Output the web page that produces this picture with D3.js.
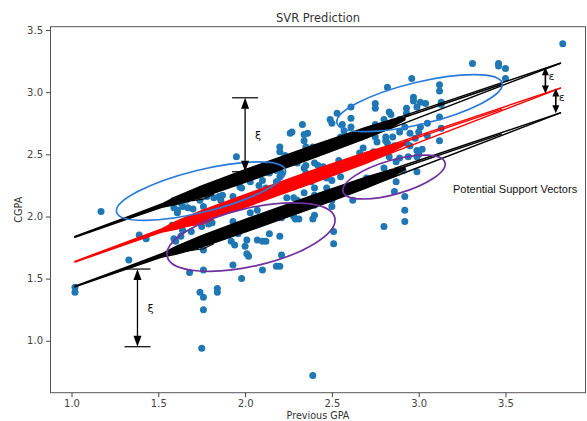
<!DOCTYPE html>
<html><head><meta charset="utf-8">
<script src="https://cdn.jsdelivr.net/npm/d3@7"></script>
<style>body{margin:0;background:#fff}svg{display:block}</style>
</head><body>
<svg id="chart" width="587" height="421"></svg>
<script>
// ---- data ----
const prevGPA = [3.83,3.31,3.46,3.46,3.50,3.50,2.96,2.82,3.12,3.12,3.13,3.13,3.12,3.13,3.12,
2.61,2.75,2.75,2.97,2.97,3.01,3.04,2.99,2.83,2.84,2.93,2.93,2.53,2.49,2.61,2.50,2.56,2.61,2.57,
2.80,2.75,2.85,2.89,2.92,3.01,3.05,2.33,2.36,2.34,2.34,2.27,2.35,2.39,2.55,2.61,2.67,2.68,2.76,
2.81,2.85,2.89,2.95,2.98,3.00,3.05,2.95,3.02,2.54,2.66,2.74,2.99,2.87,2.35,2.42,2.40,2.81,2.82,
2.75,2.86,2.93,2.99,2.82,2.94,3.00,2.80,2.86,2.91,2.99,2.83,2.89,2.62,2.45,2.30,2.28,2.35,2.38,
2.47,2.55,2.63,2.86,2.92,2.44,2.30,2.34,2.28,2.34,2.40,2.40,2.47,2.50,2.55,2.62,2.70,2.87,2.92,
2.92,2.80,2.51,2.51,2.40,2.39,2.31,2.29,2.50,2.27,2.39,1.17,1.02,1.02,1.33,1.39,1.43,1.58,1.59,
1.60,1.63,1.64,1.68,1.76,1.74,1.76,1.76,1.84,1.84,1.75,1.93,1.98,2.01,2.01,2.00,2.10,2.18,2.20,
2.21,2.20,2.12,2.07,2.10,2.14,2.02,1.92,1.94,1.96,1.93,1.75,1.79,1.69,1.74,1.76,2.03,2.07,2.18,
2.21,2.28,2.11,1.64,1.70,1.59,1.61,1.67,1.82,1.86,1.87,1.89,1.79,1.81,2.24,2.28,2.30,1.59,1.63,
1.66,1.76,1.85,1.93,1.97,2.08,2.10,2.14,2.18,2.20,2.12,1.95,2.20,2.20,2.23,2.26,2.21,2.18,2.03,
1.98,1.78,1.74,1.61,2.40,2.50];
const cgpa = [3.39,3.23,3.23,3.21,3.19,3.11,3.11,3.04,3.06,3.01,2.92,2.90,2.80,2.71,2.61,
2.88,2.91,2.87,2.96,2.93,2.92,2.91,2.88,2.84,2.82,2.87,2.83,2.83,2.78,2.79,2.75,2.74,2.72,2.69,
2.78,2.74,2.76,2.78,2.72,2.72,2.75,2.74,2.67,2.66,2.61,2.68,2.56,2.56,2.64,2.64,2.64,2.55,2.60,
2.61,2.64,2.68,2.67,2.63,2.68,2.65,2.57,2.54,2.45,2.51,2.52,2.48,2.44,2.41,2.41,2.43,2.64,2.59,
2.64,2.57,2.59,2.53,2.52,2.48,2.50,2.39,2.35,2.37,2.36,2.48,2.47,2.43,2.40,2.43,2.29,2.35,2.28,
2.31,2.32,2.24,2.20,2.16,2.13,2.13,2.39,2.24,2.19,2.17,2.23,2.23,2.29,2.43,2.13,2.31,2.28,2.05,
1.96,1.92,1.88,1.78,2.01,1.98,1.98,1.98,2.08,2.05,0.72,2.04,1.43,1.39,1.65,1.85,1.82,1.93,1.82,
1.80,1.84,1.89,1.55,1.57,1.39,1.35,1.25,1.42,1.39,0.94,1.61,1.50,1.81,1.70,1.76,1.57,1.60,1.60,
1.69,1.84,1.80,1.81,1.80,1.86,1.68,1.80,1.77,1.86,1.96,1.92,1.94,1.88,1.80,1.73,2.03,2.05,2.04,
1.99,2.00,2.00,2.08,2.06,2.07,2.03,2.07,2.15,2.13,2.17,2.08,2.03,1.95,2.15,2.15,2.08,2.13,2.11,
2.13,2.08,2.16,2.16,2.24,2.25,2.29,2.35,2.37,2.32,2.23,2.48,2.56,2.52,2.49,2.67,2.35,2.28,2.28,
2.23,2.16,2.13,2.05,2.09,2.13];

// SVR prediction (thick band where many predictions overlap) and epsilon tube
const EPS = 0.2;
const bandX  = [1.02, 1.30, 1.52, 1.60, 1.75, 2.00, 2.40, 2.70, 2.85, 2.92];
const bandHi = [1.638,1.784,1.899,1.957,2.045,2.175,2.375,2.517,2.579,2.594];
const bandLo = [1.634,1.770,1.875,1.897,1.955,2.075,2.275,2.431,2.524,2.578];
const wedgeX = [1.58, 1.76, 1.82];
const wedgeY = [1.905, 1.940, 1.980];
const fanX = [[2.86, 3.82], [2.72, 3.82], [2.78, 3.48]];
const fanY = [[2.586, 3.035], [2.445, 3.035], [2.534, 2.864]];

const xTicks = [1.0, 1.5, 2.0, 2.5, 3.0, 3.5];
const yTicks = [1.0, 1.5, 2.0, 2.5, 3.0, 3.5];

// annotations
const xiX = [2.00, 1.38], xiTop = [2.955, 1.577], xiBot = [2.36, 0.952];
const epsX = [3.73, 3.79], epsTop = [3.20, 3.03], epsBot = [2.99, 2.83];
const ellCX = [1.746, 3.005, 2.034, 2.858];
const ellCY = [2.204, 2.912, 1.834, 2.317];
const ellRX = [87, 85, 86, 53], ellRY = [21, 21, 29, 17], ellRot = [-14, -13.6, -13, -16];
const ellColor = ["#2a7bd9", "#2a7bd9", "#7030a0", "#7030a0"];

// ---- drawing ----
const svg = d3.select("#chart");
const L = 50.5, R = 585.5, T = 26.7, B = 392.7;
const x = d3.scaleLinear().domain([0.879, 3.961]).range([L, R]);
const y = d3.scaleLinear().domain([0.582, 3.527]).range([B, T]);
const FONT = "DejaVu Sans, sans-serif";

// axes
const gx = svg.append("g").attr("transform", `translate(0,${B})`)
  .call(d3.axisBottom(x).tickValues(xTicks).tickFormat(d3.format(".1f")).tickSize(4.5).tickPadding(3));
const gy = svg.append("g").attr("transform", `translate(${L},0)`)
  .call(d3.axisLeft(y).tickValues(yTicks).tickFormat(d3.format(".1f")).tickSize(4.5).tickPadding(3));
[gx, gy].forEach(g => {
  g.select(".domain").remove();
  g.selectAll("line").attr("stroke", "#444");
  g.selectAll("text").attr("fill", "#444").style("font-family", FONT).style("font-size", "10px");
});

// points
svg.append("g").selectAll("circle").data(prevGPA.map((v, i) => [v, cgpa[i]])).join("circle")
  .attr("cx", d => x(d[0])).attr("cy", d => y(d[1])).attr("r", 3.5).attr("fill", "#1f77b4");

// prediction band + tube
const band = bandX.map((v, i) => ({x: v, hi: bandHi[i], lo: bandLo[i]}));
const line = d3.line();
[[EPS, "#000"], [-EPS, "#000"], [0, "#ff0000"]].forEach(([off, col]) => {
  const g = svg.append("g");
  g.append("path")
    .attr("d", d3.area().x(d => x(d.x)).y0(d => y(d.lo + off)).y1(d => y(d.hi + off))(band))
    .attr("fill", col).attr("stroke", col).attr("stroke-width", 1.7).attr("stroke-linejoin", "round");
  g.append("path")
    .attr("d", line(wedgeX.map((v, i) => [x(v), y(wedgeY[i] + off)])))
    .attr("fill", "none").attr("stroke", col).attr("stroke-width", 1.2);
  fanX.forEach((fx, k) => {
    g.append("path")
      .attr("d", line(fx.map((v, i) => [x(v), y(fanY[k][i] + off)])))
      .attr("fill", "none").attr("stroke", col).attr("stroke-width", 1.4);
  });
});

// ellipses
ellCX.forEach((cx, i) => {
  svg.append("ellipse")
    .attr("transform", `translate(${x(cx)},${y(ellCY[i])}) rotate(${ellRot[i]})`)
    .attr("rx", ellRX[i]).attr("ry", ellRY[i])
    .attr("fill", "none").attr("stroke", ellColor[i]).attr("stroke-width", 1.7);
});

// vertical double arrows
function vArrow(xv, yt, yb, hw, hl, sw) {
  const px = x(xv), p1 = y(yt), p2 = y(yb);
  const g = svg.append("g");
  g.append("line").attr("x1", px).attr("x2", px).attr("y1", p1 + hl - 1).attr("y2", p2 - hl + 1)
    .attr("stroke", "#000").attr("stroke-width", sw);
  g.append("path").attr("d", `M${px},${p1}L${px - hw / 2},${p1 + hl}L${px + hw / 2},${p1 + hl}Z`).attr("fill", "#000");
  g.append("path").attr("d", `M${px},${p2}L${px - hw / 2},${p2 - hl}L${px + hw / 2},${p2 - hl}Z`).attr("fill", "#000");
  return g;
}
xiX.forEach((xv, i) => {
  const g = vArrow(xv, xiTop[i], xiBot[i], 8, 11, 1.3);
  [xiTop[i], xiBot[i]].forEach(v => {
    g.append("line").attr("x1", x(xv) - 13).attr("x2", x(xv) + 13).attr("y1", y(v)).attr("y2", y(v))
      .attr("stroke", "#000").attr("stroke-width", 1.2);
  });
  g.append("text").attr("x", x(xv) + 10).attr("y", (y(xiTop[i]) + y(xiBot[i])) / 2 + 4)
    .text("ξ").style("font-family", FONT).style("font-size", "11px").attr("fill", "#111");
});
epsX.forEach((xv, i) => {
  const g = vArrow(xv, epsTop[i], epsBot[i], 7, 8, 1.6);
  g.append("text").attr("x", x(xv) + 3).attr("y", (y(epsTop[i]) + y(epsBot[i])) / 2 + 0)
    .text("ε").style("font-family", FONT).style("font-size", "11px").attr("fill", "#111");
});

// frame
svg.append("rect").attr("x", L).attr("y", T).attr("width", R - L).attr("height", B - T)
  .attr("fill", "none").attr("stroke", "#555").attr("stroke-width", 1);

// texts
svg.append("text").attr("x", (L + R) / 2).attr("y", 22).attr("text-anchor", "middle")
  .text("SVR Prediction").style("font-family", FONT).style("font-size", "11.5px").attr("fill", "#333");
svg.append("text").attr("x", (L + R) / 2).attr("y", 419).attr("text-anchor", "middle")
  .text("Previous GPA").style("font-family", FONT).style("font-size", "9.6px").attr("fill", "#333");
svg.append("text").attr("transform", `translate(22,${(T + B) / 2}) rotate(-90)`).attr("text-anchor", "middle")
  .text("CGPA").style("font-family", FONT).style("font-size", "9.6px").attr("fill", "#333");
svg.append("text").attr("x", 453).attr("y", 193)
  .text("Potential Support Vectors").style("font-family", "Liberation Sans, Arial, sans-serif")
  .style("font-size", "11px").attr("fill", "#111");
</script>
</body></html>
